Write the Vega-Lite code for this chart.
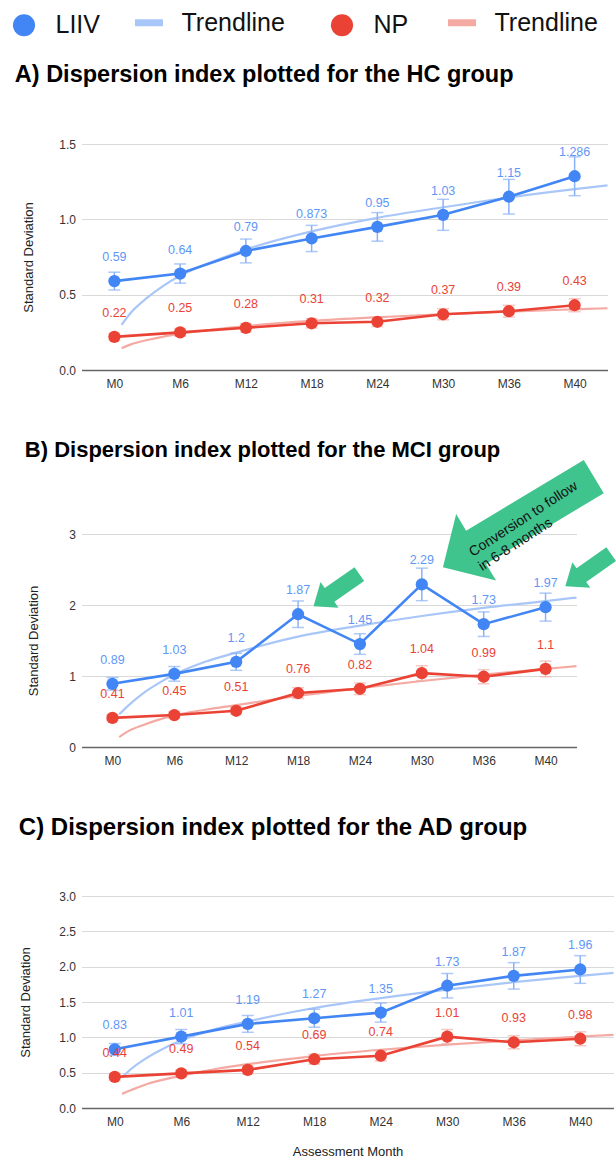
{
"$schema": "https://vega.github.io/schema/vega-lite/v6.json",
"background": "white",
"padding": {"left": 11.5, "top": 5, "right": 0, "bottom": 0},
"autosize": {"type": "pad"},
"config": {
  "font": "Liberation Sans",
  "view": {"stroke": null},
  "axis": {"labelFont": "Liberation Sans", "titleFont": "Liberation Sans", "labelColor": "#333", "titleColor": "#222", "labelFontSize": 12, "titleFontSize": 13, "titleFontWeight": "normal", "ticks": false},
  "axisY": {"domain": false, "gridColor": "#d9d9d9", "labelPadding": 6},
  "axisX": {"grid": false, "domainColor": "#666", "domainWidth": 1.5, "labelPadding": 8},
  "title": {"anchor": "start", "font": "Liberation Sans", "fontWeight": "bold", "color": "#000"}
},
"datasets": {
  "pts": [
    {"g":"HC","s":"LIIV","i":1,"v":0.59,"lo":0.531,"hi":0.649,"lbl":"0.59"},
    {"g":"HC","s":"LIIV","i":2,"v":0.64,"lo":0.576,"hi":0.704,"lbl":"0.64"},
    {"g":"HC","s":"LIIV","i":3,"v":0.79,"lo":0.711,"hi":0.869,"lbl":"0.79"},
    {"g":"HC","s":"LIIV","i":4,"v":0.873,"lo":0.786,"hi":0.960,"lbl":"0.873"},
    {"g":"HC","s":"LIIV","i":5,"v":0.95,"lo":0.855,"hi":1.045,"lbl":"0.95"},
    {"g":"HC","s":"LIIV","i":6,"v":1.03,"lo":0.927,"hi":1.133,"lbl":"1.03"},
    {"g":"HC","s":"LIIV","i":7,"v":1.15,"lo":1.035,"hi":1.265,"lbl":"1.15"},
    {"g":"HC","s":"LIIV","i":8,"v":1.286,"lo":1.157,"hi":1.415,"lbl":"1.286"},
    {"g":"HC","s":"NP","i":1,"v":0.22,"lo":0.198,"hi":0.242,"lbl":"0.22"},
    {"g":"HC","s":"NP","i":2,"v":0.25,"lo":0.225,"hi":0.275,"lbl":"0.25"},
    {"g":"HC","s":"NP","i":3,"v":0.28,"lo":0.252,"hi":0.308,"lbl":"0.28"},
    {"g":"HC","s":"NP","i":4,"v":0.31,"lo":0.279,"hi":0.341,"lbl":"0.31"},
    {"g":"HC","s":"NP","i":5,"v":0.32,"lo":0.288,"hi":0.352,"lbl":"0.32"},
    {"g":"HC","s":"NP","i":6,"v":0.37,"lo":0.333,"hi":0.407,"lbl":"0.37"},
    {"g":"HC","s":"NP","i":7,"v":0.39,"lo":0.351,"hi":0.429,"lbl":"0.39"},
    {"g":"HC","s":"NP","i":8,"v":0.43,"lo":0.387,"hi":0.473,"lbl":"0.43"},
    {"g":"MCI","s":"LIIV","i":1,"v":0.89,"lo":0.801,"hi":0.979,"lbl":"0.89"},
    {"g":"MCI","s":"LIIV","i":2,"v":1.03,"lo":0.927,"hi":1.133,"lbl":"1.03"},
    {"g":"MCI","s":"LIIV","i":3,"v":1.2,"lo":1.08,"hi":1.32,"lbl":"1.2"},
    {"g":"MCI","s":"LIIV","i":4,"v":1.87,"lo":1.683,"hi":2.057,"lbl":"1.87"},
    {"g":"MCI","s":"LIIV","i":5,"v":1.45,"lo":1.305,"hi":1.595,"lbl":"1.45"},
    {"g":"MCI","s":"LIIV","i":6,"v":2.29,"lo":2.061,"hi":2.519,"lbl":"2.29"},
    {"g":"MCI","s":"LIIV","i":7,"v":1.73,"lo":1.557,"hi":1.903,"lbl":"1.73"},
    {"g":"MCI","s":"LIIV","i":8,"v":1.97,"lo":1.773,"hi":2.167,"lbl":"1.97"},
    {"g":"MCI","s":"NP","i":1,"v":0.41,"lo":0.369,"hi":0.451,"lbl":"0.41"},
    {"g":"MCI","s":"NP","i":2,"v":0.45,"lo":0.405,"hi":0.495,"lbl":"0.45"},
    {"g":"MCI","s":"NP","i":3,"v":0.51,"lo":0.459,"hi":0.561,"lbl":"0.51"},
    {"g":"MCI","s":"NP","i":4,"v":0.76,"lo":0.684,"hi":0.836,"lbl":"0.76"},
    {"g":"MCI","s":"NP","i":5,"v":0.82,"lo":0.738,"hi":0.902,"lbl":"0.82"},
    {"g":"MCI","s":"NP","i":6,"v":1.04,"lo":0.936,"hi":1.144,"lbl":"1.04"},
    {"g":"MCI","s":"NP","i":7,"v":0.99,"lo":0.891,"hi":1.089,"lbl":"0.99"},
    {"g":"MCI","s":"NP","i":8,"v":1.1,"lo":0.99,"hi":1.21,"lbl":"1.1"},
    {"g":"AD","s":"LIIV","i":1,"v":0.83,"lo":0.747,"hi":0.913,"lbl":"0.83"},
    {"g":"AD","s":"LIIV","i":2,"v":1.01,"lo":0.909,"hi":1.111,"lbl":"1.01"},
    {"g":"AD","s":"LIIV","i":3,"v":1.19,"lo":1.071,"hi":1.309,"lbl":"1.19"},
    {"g":"AD","s":"LIIV","i":4,"v":1.27,"lo":1.143,"hi":1.397,"lbl":"1.27"},
    {"g":"AD","s":"LIIV","i":5,"v":1.35,"lo":1.215,"hi":1.485,"lbl":"1.35"},
    {"g":"AD","s":"LIIV","i":6,"v":1.73,"lo":1.557,"hi":1.903,"lbl":"1.73"},
    {"g":"AD","s":"LIIV","i":7,"v":1.87,"lo":1.683,"hi":2.057,"lbl":"1.87"},
    {"g":"AD","s":"LIIV","i":8,"v":1.96,"lo":1.764,"hi":2.156,"lbl":"1.96"},
    {"g":"AD","s":"NP","i":1,"v":0.44,"lo":0.396,"hi":0.484,"lbl":"0.44"},
    {"g":"AD","s":"NP","i":2,"v":0.49,"lo":0.441,"hi":0.539,"lbl":"0.49"},
    {"g":"AD","s":"NP","i":3,"v":0.54,"lo":0.486,"hi":0.594,"lbl":"0.54"},
    {"g":"AD","s":"NP","i":4,"v":0.69,"lo":0.621,"hi":0.759,"lbl":"0.69"},
    {"g":"AD","s":"NP","i":5,"v":0.74,"lo":0.666,"hi":0.814,"lbl":"0.74"},
    {"g":"AD","s":"NP","i":6,"v":1.01,"lo":0.909,"hi":1.111,"lbl":"1.01"},
    {"g":"AD","s":"NP","i":7,"v":0.93,"lo":0.837,"hi":1.023,"lbl":"0.93"},
    {"g":"AD","s":"NP","i":8,"v":0.98,"lo":0.882,"hi":1.078,"lbl":"0.98"}
  ],
  "trend": [
    {"g":"HC","s":"LIIV Trendline","i":1.11,"v":0.30},{"g":"HC","s":"LIIV Trendline","i":1.25,"v":0.38},{"g":"HC","s":"LIIV Trendline","i":1.5,"v":0.48},{"g":"HC","s":"LIIV Trendline","i":1.75,"v":0.56},{"g":"HC","s":"LIIV Trendline","i":2,"v":0.625},{"g":"HC","s":"LIIV Trendline","i":2.5,"v":0.72},{"g":"HC","s":"LIIV Trendline","i":3,"v":0.80},{"g":"HC","s":"LIIV Trendline","i":4,"v":0.92},{"g":"HC","s":"LIIV Trendline","i":5,"v":1.01},{"g":"HC","s":"LIIV Trendline","i":6,"v":1.08},{"g":"HC","s":"LIIV Trendline","i":7,"v":1.145},{"g":"HC","s":"LIIV Trendline","i":8,"v":1.20},{"g":"HC","s":"LIIV Trendline","i":8.5,"v":1.225},
    {"g":"HC","s":"NP Trendline","i":1.11,"v":0.145},{"g":"HC","s":"NP Trendline","i":1.25,"v":0.17},{"g":"HC","s":"NP Trendline","i":1.5,"v":0.199},{"g":"HC","s":"NP Trendline","i":1.75,"v":0.222},{"g":"HC","s":"NP Trendline","i":2,"v":0.24},{"g":"HC","s":"NP Trendline","i":2.5,"v":0.269},{"g":"HC","s":"NP Trendline","i":3,"v":0.292},{"g":"HC","s":"NP Trendline","i":4,"v":0.326},{"g":"HC","s":"NP Trendline","i":5,"v":0.35},{"g":"HC","s":"NP Trendline","i":6,"v":0.37},{"g":"HC","s":"NP Trendline","i":7,"v":0.388},{"g":"HC","s":"NP Trendline","i":8,"v":0.403},{"g":"HC","s":"NP Trendline","i":8.5,"v":0.41},
    {"g":"MCI","s":"LIIV Trendline","i":1.11,"v":0.46},{"g":"MCI","s":"LIIV Trendline","i":1.25,"v":0.58},{"g":"MCI","s":"LIIV Trendline","i":1.5,"v":0.76},{"g":"MCI","s":"LIIV Trendline","i":1.75,"v":0.90},{"g":"MCI","s":"LIIV Trendline","i":2,"v":1.02},{"g":"MCI","s":"LIIV Trendline","i":2.5,"v":1.20},{"g":"MCI","s":"LIIV Trendline","i":3,"v":1.33},{"g":"MCI","s":"LIIV Trendline","i":4,"v":1.555},{"g":"MCI","s":"LIIV Trendline","i":5,"v":1.71},{"g":"MCI","s":"LIIV Trendline","i":6,"v":1.845},{"g":"MCI","s":"LIIV Trendline","i":7,"v":1.96},{"g":"MCI","s":"LIIV Trendline","i":8,"v":2.055},{"g":"MCI","s":"LIIV Trendline","i":8.5,"v":2.105},
    {"g":"MCI","s":"NP Trendline","i":1.11,"v":0.14},{"g":"MCI","s":"NP Trendline","i":1.25,"v":0.22},{"g":"MCI","s":"NP Trendline","i":1.5,"v":0.31},{"g":"MCI","s":"NP Trendline","i":1.75,"v":0.385},{"g":"MCI","s":"NP Trendline","i":2,"v":0.445},{"g":"MCI","s":"NP Trendline","i":2.5,"v":0.525},{"g":"MCI","s":"NP Trendline","i":3,"v":0.59},{"g":"MCI","s":"NP Trendline","i":4,"v":0.72},{"g":"MCI","s":"NP Trendline","i":5,"v":0.83},{"g":"MCI","s":"NP Trendline","i":6,"v":0.93},{"g":"MCI","s":"NP Trendline","i":7,"v":1.02},{"g":"MCI","s":"NP Trendline","i":8,"v":1.10},{"g":"MCI","s":"NP Trendline","i":8.5,"v":1.14},
    {"g":"AD","s":"LIIV Trendline","i":1.11,"v":0.435},{"g":"AD","s":"LIIV Trendline","i":1.25,"v":0.555},{"g":"AD","s":"LIIV Trendline","i":1.5,"v":0.72},{"g":"AD","s":"LIIV Trendline","i":1.75,"v":0.85},{"g":"AD","s":"LIIV Trendline","i":2,"v":0.954},{"g":"AD","s":"LIIV Trendline","i":2.5,"v":1.115},{"g":"AD","s":"LIIV Trendline","i":3,"v":1.225},{"g":"AD","s":"LIIV Trendline","i":4,"v":1.415},{"g":"AD","s":"LIIV Trendline","i":5,"v":1.555},{"g":"AD","s":"LIIV Trendline","i":6,"v":1.675},{"g":"AD","s":"LIIV Trendline","i":7,"v":1.78},{"g":"AD","s":"LIIV Trendline","i":8,"v":1.87},{"g":"AD","s":"LIIV Trendline","i":8.5,"v":1.913},
    {"g":"AD","s":"NP Trendline","i":1.11,"v":0.20},{"g":"AD","s":"NP Trendline","i":1.25,"v":0.255},{"g":"AD","s":"NP Trendline","i":1.5,"v":0.344},{"g":"AD","s":"NP Trendline","i":1.75,"v":0.405},{"g":"AD","s":"NP Trendline","i":2,"v":0.458},{"g":"AD","s":"NP Trendline","i":2.5,"v":0.548},{"g":"AD","s":"NP Trendline","i":3,"v":0.62},{"g":"AD","s":"NP Trendline","i":4,"v":0.735},{"g":"AD","s":"NP Trendline","i":5,"v":0.824},{"g":"AD","s":"NP Trendline","i":6,"v":0.897},{"g":"AD","s":"NP Trendline","i":7,"v":0.958},{"g":"AD","s":"NP Trendline","i":8,"v":1.012},{"g":"AD","s":"NP Trendline","i":8.5,"v":1.036}
  ],
  "notes": [
    {"k":"arrow","i":4.62,"v":2.21},
    {"k":"arrow","i":8.69,"v":2.49},
    {"k":"big","i":7.56,"v":3.17},
    {"k":"note","i":6.79,"v":2.725,"txt":"Conversion to follow\nin 6-8 months"}
  ]
},
"spacing": 50,
"vconcat": [
  {
    "title": {"text": "A) Dispersion index plotted for the HC group", "fontSize": 23.5, "offset": 52, "dx": -8},
    "width": 526, "height": 226,
    "encoding": {
      "x": {"field": "i", "type": "quantitative", "scale": {"domain": [0.5, 8.5], "nice": false, "zero": false}, "axis": {"values": [1,2,3,4,5,6,7,8], "labelExpr": "['M0','M6','M12','M18','M24','M30','M36','M40'][datum.value - 1]"}, "title": null},
      "y": {"field": "v", "type": "quantitative", "scale": {"domain": [0, 1.5], "nice": false}, "axis": {"values": [0, 0.5, 1, 1.5], "format": ".1f", "titlePadding": 23}, "title": "Standard Deviation"}
    },
    "layer": [
      {"data": {"name": "trend"}, "transform": [{"filter": "datum.g == 'HC'"}],
       "mark": {"type": "line", "interpolate": "monotone", "strokeWidth": 2.2},
       "encoding": {"stroke": {"field": "s", "type": "nominal",
         "scale": {"domain": ["LIIV Trendline", "NP Trendline"], "range": ["#a9c6f8", "#f4aaa3"]},
         "legend": {"orient": "none", "legendX": 50, "legendY": -139, "direction": "horizontal", "columns": 2, "title": null,
           "labelFontSize": 25, "labelColor": "#111", "labelFont": "Liberation Sans", "labelOffset": 15, "columnPadding": 148,
           "symbolSize": 784, "symbolType": "stroke", "symbolStrokeWidth": 7,
           "labelExpr": "'Trendline'"}}}},
      {"data": {"name": "pts"}, "transform": [{"filter": "datum.g == 'HC'"}],
       "mark": {"type": "rule", "strokeWidth": 1.5},
       "encoding": {"y": {"field": "lo", "type": "quantitative", "title": "Standard Deviation"}, "y2": {"field": "hi"},
         "color": {"condition": {"test": "datum.s == 'LIIV'", "value": "#8ab2f7"}, "value": "#f2b0aa"}}},
      {"data": {"name": "pts"}, "transform": [{"filter": "datum.g == 'HC'"}],
       "mark": {"type": "tick", "orient": "horizontal", "size": 12, "thickness": 1.5},
       "encoding": {"y": {"field": "lo", "type": "quantitative", "title": "Standard Deviation"},
         "color": {"condition": {"test": "datum.s == 'LIIV'", "value": "#8ab2f7"}, "value": "#f2b0aa"}}},
      {"data": {"name": "pts"}, "transform": [{"filter": "datum.g == 'HC'"}],
       "mark": {"type": "tick", "orient": "horizontal", "size": 12, "thickness": 1.5},
       "encoding": {"y": {"field": "hi", "type": "quantitative", "title": "Standard Deviation"},
         "color": {"condition": {"test": "datum.s == 'LIIV'", "value": "#8ab2f7"}, "value": "#f2b0aa"}}},
      {"data": {"name": "pts"}, "transform": [{"filter": "datum.g == 'HC'"}],
       "mark": {"type": "line", "strokeWidth": 2.6},
       "encoding": {"color": {"field": "s", "type": "nominal",
         "scale": {"domain": ["LIIV", "NP"], "range": ["#4285f4", "#ea4335"]},
         "legend": {"orient": "none", "legendX": -70, "legendY": -131.5, "direction": "horizontal", "columns": 2, "title": null,
           "labelFontSize": 25, "labelColor": "#111", "labelFont": "Liberation Sans", "labelOffset": 19, "columnPadding": 229,
           "symbolSize": 490, "symbolType": "circle", "symbolStrokeWidth": 0, "symbolOpacity": 1}}}},
      {"data": {"name": "pts"}, "transform": [{"filter": "datum.g == 'HC'"}],
       "mark": {"type": "circle", "size": 150, "opacity": 1},
       "encoding": {"color": {"field": "s", "type": "nominal"}}},
      {"data": {"name": "pts"}, "transform": [{"filter": "datum.g == 'HC'"}],
       "mark": {"type": "text", "dy": -24, "fontSize": 12.5},
       "encoding": {"text": {"field": "lbl"}, "color": {"condition": {"test": "datum.s == 'LIIV'", "value": "#5f97f6"}, "value": "#ea4335"}}}
    ]
  },
  {
    "title": {"text": "B) Dispersion index plotted for the MCI group", "fontSize": 22, "offset": -2, "dx": -3},
    "width": 495, "height": 213,
    "encoding": {
      "x": {"field": "i", "type": "quantitative", "scale": {"domain": [0.5, 8.5], "nice": false, "zero": false}, "axis": {"values": [1,2,3,4,5,6,7,8], "labelExpr": "['M0','M6','M12','M18','M24','M30','M36','M40'][datum.value - 1]"}, "title": null},
      "y": {"field": "v", "type": "quantitative", "scale": {"domain": [0, 3], "nice": false}, "axis": {"values": [0, 1, 2, 3], "format": "d", "titlePadding": 28}, "title": "Standard Deviation"}
    },
    "layer": [
      {"data": {"name": "trend"}, "transform": [{"filter": "datum.g == 'MCI'"}],
       "mark": {"type": "line", "interpolate": "monotone", "strokeWidth": 2.2},
       "encoding": {"stroke": {"field": "s", "type": "nominal"}}},
      {"data": {"name": "pts"}, "transform": [{"filter": "datum.g == 'MCI'"}],
       "mark": {"type": "rule", "strokeWidth": 1.5},
       "encoding": {"y": {"field": "lo", "type": "quantitative", "title": "Standard Deviation"}, "y2": {"field": "hi"},
         "color": {"condition": {"test": "datum.s == 'LIIV'", "value": "#8ab2f7"}, "value": "#f2b0aa"}}},
      {"data": {"name": "pts"}, "transform": [{"filter": "datum.g == 'MCI'"}],
       "mark": {"type": "tick", "orient": "horizontal", "size": 12, "thickness": 1.5},
       "encoding": {"y": {"field": "lo", "type": "quantitative", "title": "Standard Deviation"},
         "color": {"condition": {"test": "datum.s == 'LIIV'", "value": "#8ab2f7"}, "value": "#f2b0aa"}}},
      {"data": {"name": "pts"}, "transform": [{"filter": "datum.g == 'MCI'"}],
       "mark": {"type": "tick", "orient": "horizontal", "size": 12, "thickness": 1.5},
       "encoding": {"y": {"field": "hi", "type": "quantitative", "title": "Standard Deviation"},
         "color": {"condition": {"test": "datum.s == 'LIIV'", "value": "#8ab2f7"}, "value": "#f2b0aa"}}},
      {"data": {"name": "pts"}, "transform": [{"filter": "datum.g == 'MCI'"}],
       "mark": {"type": "line", "strokeWidth": 2.6},
       "encoding": {"color": {"field": "s", "type": "nominal"}}},
      {"data": {"name": "pts"}, "transform": [{"filter": "datum.g == 'MCI'"}],
       "mark": {"type": "circle", "size": 150, "opacity": 1},
       "encoding": {"color": {"field": "s", "type": "nominal"}}},
      {"data": {"name": "pts"}, "transform": [{"filter": "datum.g == 'MCI'"}],
       "mark": {"type": "text", "dy": -24, "fontSize": 12.5},
       "encoding": {"text": {"field": "lbl"}, "color": {"condition": {"test": "datum.s == 'LIIV'", "value": "#5f97f6"}, "value": "#ea4335"}}},
      {"data": {"name": "notes"}, "transform": [{"filter": "datum.k == 'arrow'"}],
       "mark": {"type": "point", "shape": "M -1 0 L -0.3 -0.56 L -0.3 -0.3 L 1 -0.3 L 1 0.3 L -0.3 0.3 L -0.3 0.56 Z", "size": 3136, "angle": -35, "filled": true, "color": "#40c48e", "opacity": 1}},
      {"data": {"name": "notes"}, "transform": [{"filter": "datum.k == 'big'"}],
       "mark": {"type": "point", "shape": "M -1 0 L -0.56 -0.44 L -0.56 -0.22 L 1 -0.22 L 1 0.22 L -0.56 0.22 L -0.56 0.44 Z", "size": 30976, "angle": -31, "filled": true, "color": "#40c48e", "opacity": 1}},
      {"data": {"name": "notes"}, "transform": [{"filter": "datum.k == 'note'"}],
       "mark": {"type": "text", "align": "left", "baseline": "middle", "angle": -33, "fontSize": 14, "lineHeight": 17, "lineBreak": "\n", "color": "#111"},
       "encoding": {"text": {"field": "txt"}}}
    ]
  },
  {
    "title": {"text": "C) Dispersion index plotted for the AD group", "fontSize": 24, "offset": 50, "dx": -1},
    "width": 532, "height": 212,
    "encoding": {
      "x": {"field": "i", "type": "quantitative", "scale": {"domain": [0.5, 8.5], "nice": false, "zero": false}, "axis": {"values": [1,2,3,4,5,6,7,8], "labelExpr": "['M0','M6','M12','M18','M24','M30','M36','M40'][datum.value - 1]", "titlePadding": 18, "titleFontSize": 13}, "title": "Assessment Month"},
      "y": {"field": "v", "type": "quantitative", "scale": {"domain": [0, 3], "nice": false}, "axis": {"values": [0, 0.5, 1, 1.5, 2, 2.5, 3], "format": ".1f", "titlePadding": 26}, "title": "Standard Deviation"}
    },
    "layer": [
      {"data": {"name": "trend"}, "transform": [{"filter": "datum.g == 'AD'"}],
       "mark": {"type": "line", "interpolate": "monotone", "strokeWidth": 2.2},
       "encoding": {"stroke": {"field": "s", "type": "nominal"}}},
      {"data": {"name": "pts"}, "transform": [{"filter": "datum.g == 'AD'"}],
       "mark": {"type": "rule", "strokeWidth": 1.5},
       "encoding": {"y": {"field": "lo", "type": "quantitative", "title": "Standard Deviation"}, "y2": {"field": "hi"},
         "color": {"condition": {"test": "datum.s == 'LIIV'", "value": "#8ab2f7"}, "value": "#f2b0aa"}}},
      {"data": {"name": "pts"}, "transform": [{"filter": "datum.g == 'AD'"}],
       "mark": {"type": "tick", "orient": "horizontal", "size": 12, "thickness": 1.5},
       "encoding": {"y": {"field": "lo", "type": "quantitative", "title": "Standard Deviation"},
         "color": {"condition": {"test": "datum.s == 'LIIV'", "value": "#8ab2f7"}, "value": "#f2b0aa"}}},
      {"data": {"name": "pts"}, "transform": [{"filter": "datum.g == 'AD'"}],
       "mark": {"type": "tick", "orient": "horizontal", "size": 12, "thickness": 1.5},
       "encoding": {"y": {"field": "hi", "type": "quantitative", "title": "Standard Deviation"},
         "color": {"condition": {"test": "datum.s == 'LIIV'", "value": "#8ab2f7"}, "value": "#f2b0aa"}}},
      {"data": {"name": "pts"}, "transform": [{"filter": "datum.g == 'AD'"}],
       "mark": {"type": "line", "strokeWidth": 2.6},
       "encoding": {"color": {"field": "s", "type": "nominal"}}},
      {"data": {"name": "pts"}, "transform": [{"filter": "datum.g == 'AD'"}],
       "mark": {"type": "circle", "size": 150, "opacity": 1},
       "encoding": {"color": {"field": "s", "type": "nominal"}}},
      {"data": {"name": "pts"}, "transform": [{"filter": "datum.g == 'AD'"}],
       "mark": {"type": "text", "dy": -24, "fontSize": 12.5},
       "encoding": {"text": {"field": "lbl"}, "color": {"condition": {"test": "datum.s == 'LIIV'", "value": "#5f97f6"}, "value": "#ea4335"}}}
    ]
  }
]
}
